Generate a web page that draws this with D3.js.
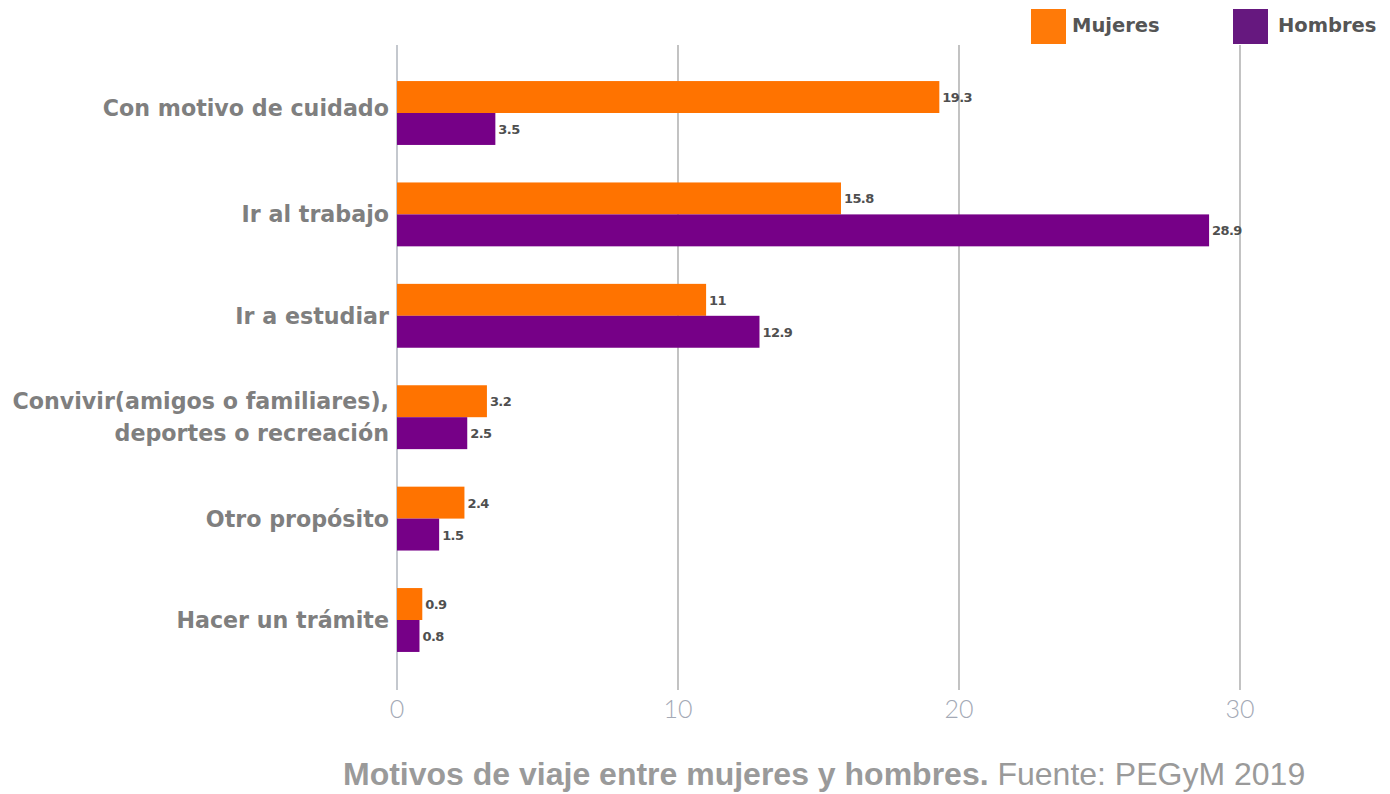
<!DOCTYPE html>
<html><head><meta charset="utf-8">
<script src="https://cdn.jsdelivr.net/npm/d3@7"></script>
<style>
html,body{margin:0;padding:0;background:#fff;}
</style></head>
<body>
<svg id="chart" width="1390" height="794"></svg>
<script>
const categories = ["Con motivo de cuidado","Ir al trabajo","Ir a estudiar","Convivir(amigos o familiares),|deportes o recreación","Otro propósito","Hacer un trámite"];
const mujeres = [19.3, 15.8, 11, 3.2, 2.4, 0.9];
const hombres = [3.5, 28.9, 12.9, 2.5, 1.5, 0.8];
const seriesNames = ["Mujeres","Hombres"];
const tickValues = [0, 10, 20, 30];
const captionBold = "Motivos de viaje entre mujeres y hombres.";
const captionRest = " Fuente: PEGyM 2019";

const svg = d3.select("#chart");
const x = d3.scaleLinear().domain([0, 30]).range([397, 1240]);
const y = d3.scaleBand().domain(categories).range([62.3, 670.7]).paddingInner(0.37).paddingOuter(0.185);
const sub = d3.scaleBand().domain(seriesNames).range([0, y.bandwidth()]);
const colors = {Mujeres: "#ff7300", Hombres: "#760087"};
const legendColors = {Mujeres: "#ff7a08", Hombres: "#66187f"};

// gridlines
const gx = svg.append("g");
gx.selectAll("line").data(tickValues).join("line")
  .attr("x1", d => x(d)).attr("x2", d => x(d))
  .attr("y1", 45).attr("y2", 690)
  .attr("stroke", d => d === 0 ? "#c4c8ce" : "#9a9a9a").attr("stroke-width", d => d===0?2:1.2);
gx.selectAll("text").data(tickValues).join("text")
  .attr("x", d => x(d)).attr("y", 718)
  .attr("text-anchor", "middle")
  .attr("font-family", "Lato, 'Open Sans', sans-serif").attr("font-weight", 300)
  .attr("font-size", 25).attr("fill", "#a3a9b5")
  .text(d => d);

// bars
const data = categories.map((c, i) => ({c, vals: [{s: "Mujeres", v: mujeres[i]}, {s: "Hombres", v: hombres[i]}]}));
const grp = svg.append("g").selectAll("g").data(data).join("g")
  .attr("transform", d => `translate(0,${y(d.c)})`);
grp.selectAll("rect").data(d => d.vals).join("rect")
  .attr("x", x(0)).attr("y", d => sub(d.s))
  .attr("width", d => x(d.v) - x(0)).attr("height", sub.bandwidth())
  .attr("fill", d => colors[d.s]);
grp.selectAll("text.val").data(d => d.vals).join("text").attr("class","val")
  .attr("x", d => x(d.v) + 3).attr("y", d => sub(d.s) + sub.bandwidth()/2 + 5)
  .attr("font-family", "'DejaVu Sans', sans-serif").attr("font-weight", "bold")
  .attr("font-size", 13).attr("letter-spacing", -0.6).attr("fill", "#4f4f4f")
  .text(d => d.v);

// category labels
const lab = svg.append("g").selectAll("text").data(categories).join("text")
  .attr("text-anchor", "end")
  .attr("font-family", "'DejaVu Sans', sans-serif").attr("font-weight", "bold")
  .attr("font-size", 22.2).attr("fill", "#7f7f7f")
  .attr("transform", (d, i) => `translate(389,${y(d) + y.bandwidth()/2 + (i === 0 ? -5 : 0)})`);
lab.each(function(d){
  const parts = d.split("|");
  const t = d3.select(this);
  parts.forEach((p, i) => {
    t.append("tspan").attr("x", 0)
      .attr("y", (i - (parts.length-1)/2) * 32 + 8)
      .text(p);
  });
});

// legend
const leg = svg.append("g").selectAll("g").data(seriesNames).join("g")
  .attr("transform", (d, i) => `translate(${[1031, 1233][i]},9)`);
leg.append("rect").attr("width", 35).attr("height", 35).attr("fill", d => legendColors[d]);
leg.append("text").attr("x", (d, i) => [41, 45][i]).attr("y", 23)
  .attr("font-family", "'DejaVu Sans', sans-serif").attr("font-weight", "bold")
  .attr("font-size", 19.5).attr("fill", "#555")
  .text(d => d);

// caption
const cap = svg.append("text").attr("x", 343).attr("y", 785)
  .attr("font-family", "'Liberation Sans', Arial, sans-serif").attr("font-size", 32).attr("fill", "#9a9a9a");
cap.append("tspan").attr("font-weight", "bold").text(captionBold);
cap.append("tspan").text(captionRest);
</script>
</body></html>
